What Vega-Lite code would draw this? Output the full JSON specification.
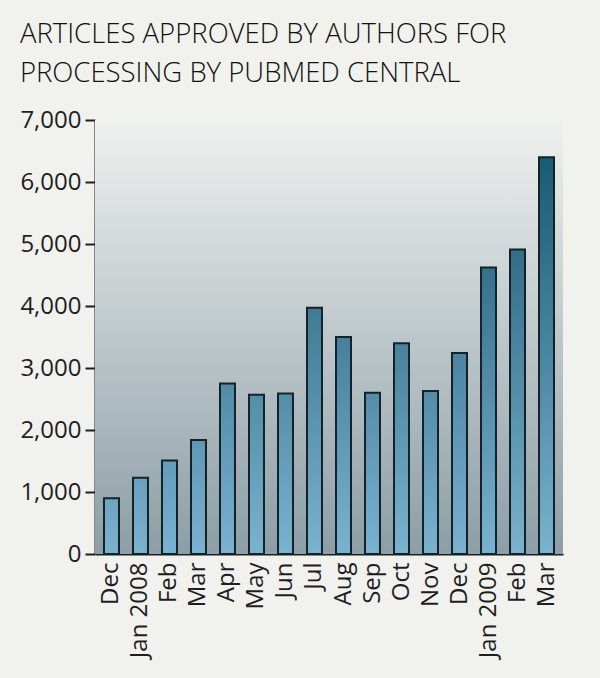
{
  "$schema": "https://vega.github.io/schema/vega-lite/v6.json",
  "width": 468,
  "height": 434,
  "autosize": {"type": "none"},
  "padding": {"left": 95, "top": 120, "right": 37, "bottom": 124},
  "background": "#f1f1ee",
  "config": {"view": {"stroke": null}},
  "title": {
    "text": ["ARTICLES APPROVED BY AUTHORS FOR", "PROCESSING BY PUBMED CENTRAL"],
    "font": "Open Sans",
    "fontWeight": 300,
    "fontSize": 27.5,
    "lineHeight": 39,
    "color": "#111111",
    "anchor": "start",
    "frame": "bounds",
    "offset": 21
  },
  "data": {
    "values": [
      {"date": "2007-12-01", "articles": 900},
      {"date": "2008-01-01", "articles": 1230},
      {"date": "2008-02-01", "articles": 1510},
      {"date": "2008-03-01", "articles": 1840},
      {"date": "2008-04-01", "articles": 2750},
      {"date": "2008-05-01", "articles": 2570},
      {"date": "2008-06-01", "articles": 2590},
      {"date": "2008-07-01", "articles": 3970},
      {"date": "2008-08-01", "articles": 3500},
      {"date": "2008-09-01", "articles": 2600},
      {"date": "2008-10-01", "articles": 3400},
      {"date": "2008-11-01", "articles": 2630},
      {"date": "2008-12-01", "articles": 3240},
      {"date": "2009-01-01", "articles": 4620},
      {"date": "2009-02-01", "articles": 4910},
      {"date": "2009-03-01", "articles": 6400}
    ]
  },
  "layer": [
    {
      "data": {"values": [{}]},
      "mark": {
        "type": "rect",
        "fill": {
          "gradient": "linear",
          "x1": 0, "y1": 0, "x2": 0, "y2": 1,
          "stops": [
            {"offset": 0, "color": "#eff1ef"},
            {"offset": 1, "color": "#8c9ea6"}
          ]
        }
      },
      "encoding": {
        "y": {"datum": 0, "type": "quantitative", "scale": {"domain": [0, 7000], "nice": false}},
        "y2": {"datum": 7000}
      }
    },
    {
      "mark": {"type": "bar"},
      "encoding": {
        "x": {
          "field": "date",
          "timeUnit": "utcyearmonth",
          "type": "ordinal",
          "scale": {"paddingInner": 0.483, "paddingOuter": 0.31},
          "axis": {
            "title": null,
            "labelAngle": -90,
            "labelAlign": "right",
            "labelBaseline": "middle",
            "labelFont": "Open Sans",
            "labelFontSize": 24,
            "labelColor": "#1e1e1e",
            "labelPadding": 8,
            "ticks": false,
            "domainColor": "#1e1e1e",
            "domainWidth": 2,
            "labelExpr": "utcmonth(datum.value) == 0 ? utcFormat(datum.value, '%b %Y') : utcFormat(datum.value, '%b')"
          }
        },
        "y": {
          "field": "articles",
          "type": "quantitative",
          "scale": {"domain": [0, 7000], "nice": false},
          "axis": {
            "title": null,
            "values": [0, 1000, 2000, 3000, 4000, 5000, 6000, 7000],
            "format": ",.0f",
            "grid": false,
            "labelFont": "Open Sans",
            "labelFontSize": 24,
            "labelColor": "#1e1e1e",
            "labelPadding": 4,
            "tickSize": 10,
            "tickWidth": 2,
            "tickColor": "#1e1e1e",
            "domainColor": "#1e1e1e",
            "domainWidth": 2
          }
        },
        "color": {
          "field": "articles",
          "type": "quantitative",
          "scale": {"domain": [0, 7000], "range": ["#7ab2cf", "#0b526c"]},
          "legend": null
        }
      }
    },
    {
      "mark": {
        "type": "bar",
        "stroke": "#14222a",
        "strokeWidth": 2,
        "fill": {
          "gradient": "linear",
          "x1": 0, "y1": 0, "x2": 0, "y2": 1,
          "stops": [
            {"offset": 0, "color": "rgba(122,178,207,0)"},
            {"offset": 1, "color": "rgba(122,178,207,1)"}
          ]
        }
      },
      "encoding": {
        "x": {"field": "date", "timeUnit": "utcyearmonth", "type": "ordinal"},
        "y": {"field": "articles", "type": "quantitative"}
      }
    }
  ]
}
